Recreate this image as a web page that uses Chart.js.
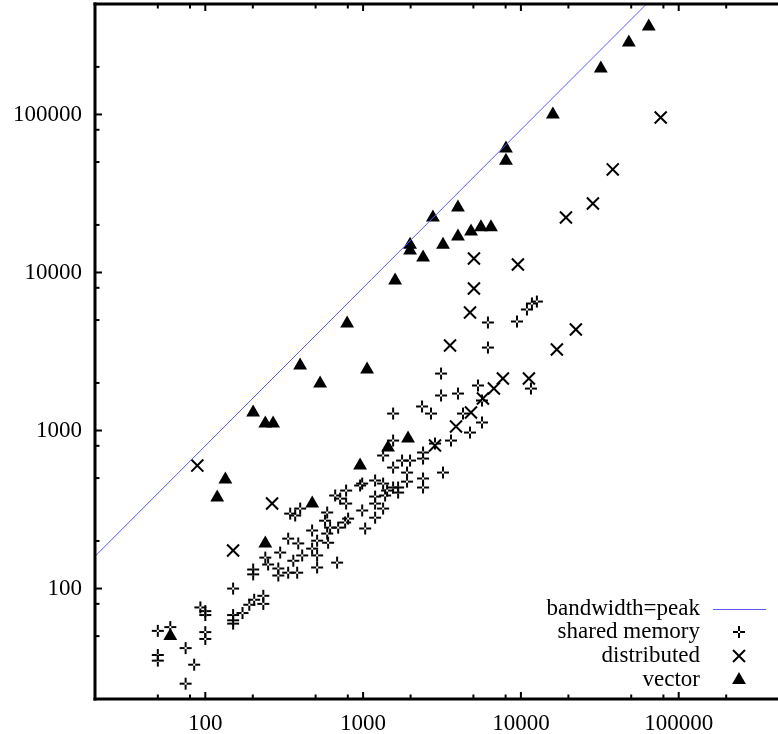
<!DOCTYPE html>
<html>
<head>
<meta charset="utf-8">
<title>bandwidth vs peak</title>
<script src="https://cdn.jsdelivr.net/npm/chart.js@4.4.1/dist/chart.umd.min.js"></script>
<style>
    html, body { margin: 0; padding: 0; background: #fff; overflow: hidden; }
    #wrap { position: relative; width: 778px; height: 734px; overflow: hidden; }
    #chart { position: absolute; left: 0; top: 0; }
</style>
</head>
<body>
<div id="wrap"><canvas id="chart" width="800" height="734"></canvas></div>
<script>
// --- data (x, y) ---
const peakLine = [[20, 160], [100000, 800000]];

const sharedMemory = [
    [50, 54], [60, 57], [75, 42], [85, 33], [75, 25], [50, 38], [50, 35], [93, 76],
    [100, 72], [100, 68], [100, 53], [100, 48], [150, 100], [150, 68], [150, 63], [150, 60],
    [172, 70], [190, 79], [204, 85], [233, 90], [233, 80], [201, 132], [201, 123], [240, 157],
    [250, 142], [298, 169], [290, 134], [290, 121], [335, 126], [382, 126], [335, 207], [388, 193],
    [361, 150], [411, 162], [475, 233], [511, 201], [475, 179], [511, 162], [511, 136], [371, 290],
    [345, 298], [399, 321], [592, 303], [574, 269], [618, 243], [592, 223], [600, 195], [695, 243],
    [769, 262], [803, 277], [684, 146], [665, 388], [715, 371], [780, 417], [780, 345], [957, 449],
    [986, 312], [1030, 240], [1191, 483], [1191, 382], [1191, 345], [1339, 462], [1419, 417], [1339, 321],
    [1191, 281], [1549, 436], [1339, 695], [1549, 583], [1666, 405], [1549, 1281], [2362, 1419], [2692, 1281],
    [3118, 1666], [3991, 1714], [5343, 1927], [5665, 1549], [4295, 1281], [5665, 1124], [4757, 971], [3606, 864],
    [2855, 827], [2398, 726], [2398, 665], [1765, 646], [1984, 646], [1549, 864], [1898, 542], [1898, 475],
    [2398, 497], [2398, 436], [3208, 542], [3118, 2295], [6180, 4829], [9440, 4898], [10920, 5832], [11740, 6365],
    [12620, 6550], [6180, 3351], [11570, 1844], [986, 462], [1378, 388], [1666, 436]
];

const distributed = [
    [76900, 95700], [38200, 44900], [28600, 27300], [19300, 22300], [5040, 12260], [9570, 11240],
    [5040, 7920], [4760, 5580], [22300, 4360], [3555, 3450], [16900, 3257], [7690, 2134],
    [11240, 2134], [6745, 1844], [5745, 1595], [4827, 1300], [3880, 1060], [2855, 804],
    [265, 345], [150, 174], [89, 600]
];

const vector = [
    [64600, 360000], [48300, 285000], [32100, 195000], [15950, 100000], [8040, 61000], [8040, 51000],
    [3990, 25800], [2770, 22300], [1984, 15000], [1984, 13800], [2400, 12450], [3210, 15000],
    [3990, 16900], [4830, 18200], [5580, 19300], [6460, 19300], [1595, 8900], [792, 4760],
    [399, 2580], [1060, 2430], [534, 1984], [201, 1300], [240, 1107], [269, 1107],
    [134, 490], [119, 377], [1927, 890], [1439, 780], [957, 600], [476, 345], [240, 193], [60, 50]
];

const seriesNames = ['bandwidth=peak', 'shared memory', 'distributed', 'vector'];
const xTickLabels = [100, 1000, 10000, 100000];
const yTickLabels = [100, 1000, 10000, 100000];
const minorTicks = [20, 50, 80, 200, 500, 800, 2000, 5000, 8000, 20000, 50000, 80000, 200000, 500000];

const FONT = '"Liberation Serif", "Times New Roman", serif';
const PEAK_COLOR = '#5a5aff';

const toPoints = arr => arr.map(([x, y]) => ({ x, y }));

// hollow-centred plus, like gnuplot's point type used for "shared memory"
function makePlus() {
    const c = document.createElement('canvas');
    c.width = 14; c.height = 14;
    const g = c.getContext('2d');
    g.fillStyle = '#000';
    g.fillRect(1, 6, 5, 2);
    g.fillRect(8, 6, 5, 2);
    g.fillRect(6, 1, 2, 5);
    g.fillRect(6, 8, 2, 5);
    return c;
}
const plusImg = makePlus();

const isMajor = (list, v) => list.some(t => Math.abs(t - v) < 1e-6 * t);

function tickList(major) {
    return major.concat(minorTicks).sort((a, b) => a - b).map(v => ({ value: v }));
}

// frame with inward ticks + legend (drawn the gnuplot way)
const framePlugin = {
    id: 'frame',
    afterDraw(chart) {
        const { ctx, chartArea: a, scales } = chart;
        ctx.save();
        ctx.fillStyle = '#000';
        ctx.fillRect(a.left - 1.5, a.top - 1.5, 3, a.bottom - a.top + 3);
        ctx.fillRect(a.left - 1.5, a.bottom - 1.5, a.right - a.left + 3, 3);
        ctx.fillRect(a.left - 1.5, a.top - 1.5, a.right - a.left + 3, 3);
        ctx.fillRect(a.right - 1.5, a.top - 1.5, 3, a.bottom - a.top + 3);

        scales.x.ticks.forEach(t => {
            const px = scales.x.getPixelForValue(t.value);
            const len = isMajor(xTickLabels, t.value) ? 7 : 4.5;
            ctx.fillRect(px - 1, a.bottom - len, 2, len);
            ctx.fillRect(px - 1, a.top, 2, len);
        });
        scales.y.ticks.forEach(t => {
            const py = scales.y.getPixelForValue(t.value);
            const len = isMajor(yTickLabels, t.value) ? 7 : 4.5;
            ctx.fillRect(a.left, py - 1, len, 2);
            ctx.fillRect(a.right - len, py - 1, len, 2);
        });

        // legend, bottom right inside the plot
        const textRight = 700, symX = 739;
        const rows = [609, 632, 656, 680];
        ctx.font = '23px ' + FONT;
        ctx.textAlign = 'right';
        ctx.textBaseline = 'middle';
        seriesNames.forEach((name, i) => ctx.fillText(name, textRight, rows[i]));

        ctx.strokeStyle = PEAK_COLOR;
        ctx.lineWidth = 1;
        ctx.beginPath();
        ctx.moveTo(713, rows[0] + 0.5);
        ctx.lineTo(766, rows[0] + 0.5);
        ctx.stroke();

        ctx.drawImage(plusImg, symX - 7, rows[1] - 7);

        ctx.strokeStyle = '#000';
        ctx.lineWidth = 2;
        const d = 6;
        ctx.beginPath();
        ctx.moveTo(symX - d, rows[2] - d); ctx.lineTo(symX + d, rows[2] + d);
        ctx.moveTo(symX + d, rows[2] - d); ctx.lineTo(symX - d, rows[2] + d);
        ctx.stroke();

        const r = 8;
        ctx.beginPath();
        ctx.moveTo(symX, rows[3] - r);
        ctx.lineTo(symX + r * 0.866, rows[3] + r / 2);
        ctx.lineTo(symX - r * 0.866, rows[3] + r / 2);
        ctx.closePath();
        ctx.fill();
        ctx.restore();
    }
};

document.addEventListener('DOMContentLoaded', () => {
    const ctx = document.getElementById('chart').getContext('2d');

    new Chart(ctx, {
        type: 'scatter',
        data: {
            datasets: [
                {
                    label: seriesNames[0],
                    data: toPoints(peakLine),
                    showLine: true,
                    borderColor: PEAK_COLOR,
                    borderWidth: 1,
                    pointRadius: 0
                },
                {
                    label: seriesNames[1],
                    data: toPoints(sharedMemory),
                    pointStyle: plusImg
                },
                {
                    label: seriesNames[2],
                    data: toPoints(distributed),
                    pointStyle: 'crossRot',
                    pointRadius: 8.5,
                    borderColor: '#000',
                    pointBorderWidth: 2
                },
                {
                    label: seriesNames[3],
                    data: toPoints(vector),
                    pointStyle: 'triangle',
                    pointRadius: 8,
                    backgroundColor: '#000',
                    borderColor: '#000',
                    pointBorderWidth: 0
                }
            ]
        },
        options: {
            responsive: false,
            animation: false,
            layout: {
                autoPadding: false,
                padding: { top: 4, right: 11, left: 0, bottom: 0 }
            },
            plugins: {
                legend: { display: false },
                tooltip: { enabled: false }
            },
            scales: {
                x: {
                    type: 'logarithmic',
                    min: 20,
                    max: 500000,
                    grid: { display: false, drawTicks: false },
                    border: { display: false },
                    afterFit: s => {
                        s.height = 35;
                        s.paddingLeft = 0;
                        s.paddingRight = 0;
                    },
                    afterBuildTicks: s => { s.ticks = tickList(xTickLabels); },
                    ticks: {
                        autoSkip: false,
                        maxRotation: 0,
                        padding: 11,
                        color: '#000',
                        font: { family: FONT, size: 23 },
                        callback: v => isMajor(xTickLabels, v) ? String(v) : ''
                    }
                },
                y: {
                    type: 'logarithmic',
                    min: 20,
                    max: 500000,
                    grid: { display: false, drawTicks: false },
                    border: { display: false },
                    afterFit: s => {
                        s.width = 95;
                        s.paddingTop = 0;
                        s.paddingBottom = 0;
                    },
                    afterBuildTicks: s => { s.ticks = tickList(yTickLabels); },
                    ticks: {
                        autoSkip: false,
                        padding: 13,
                        color: '#000',
                        font: { family: FONT, size: 23 },
                        callback: v => isMajor(yTickLabels, v) ? String(v) : ''
                    }
                }
            }
        },
        plugins: [framePlugin]
    });
});
</script>
</body>
</html>
